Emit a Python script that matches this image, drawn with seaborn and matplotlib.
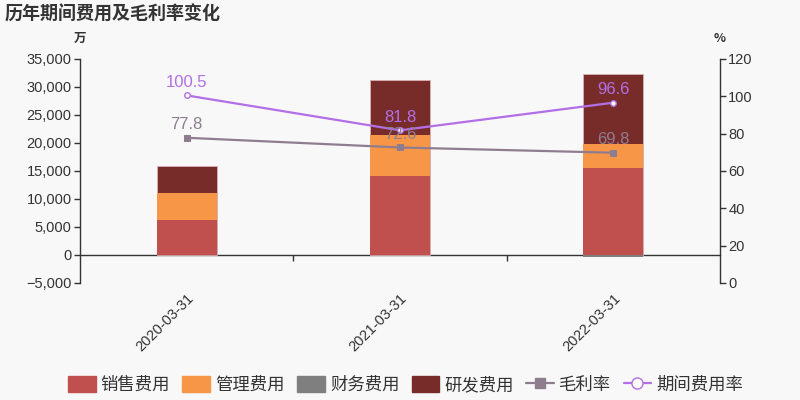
import matplotlib
matplotlib.use("Agg")
import matplotlib.pyplot as plt
import matplotlib.ticker as mticker
from matplotlib.lines import Line2D
from matplotlib.patches import FancyBboxPatch
import seaborn as sns
import numpy as np
import pandas as pd

categories = ["2020-03-31", "2021-03-31", "2022-03-31"]
sales = [6300, 14170, 15490]
mgmt = [4750, 7230, 4370]
finance = [0, 0, -300]
rnd = [4900, 9830, 12430]
gross_margin = [77.8, 72.6, 69.8]
expense_rate = [100.5, 81.8, 96.6]

c_sales = "#c0504d"
c_mgmt = "#f79646"
c_fin = "#7f7f7f"
c_rnd = "#772c2a"
c_gm = "#8f7d8f"
c_er = "#b26fe6"
bg = "#f8f8f8"

sns.set_theme(style="white")
plt.rcParams["font.family"] = ["Noto Sans CJK SC", "DejaVu Sans"]
plt.rcParams["axes.unicode_minus"] = True

fig = plt.figure(figsize=(8, 4), dpi=100, facecolor=bg)
ax = fig.add_axes([0.1, 0.2925, 0.8, 0.56])
ax.set_facecolor(bg)

df = pd.DataFrame({"cat": categories, "sales": sales, "mgmt": mgmt,
                   "fin": finance, "rnd": rnd})
df["s1"] = df["sales"]
df["s2"] = df["sales"] + df["mgmt"]
df["s3"] = df["s2"] + df["rnd"]

w = 0.28
sns.barplot(data=df, x="cat", y="s3", color=c_rnd, width=w, ax=ax,
            saturation=1, edgecolor="#d9b3b3", linewidth=0.6)
sns.barplot(data=df, x="cat", y="s2", color=c_mgmt, width=w, ax=ax,
            saturation=1, linewidth=0)
sns.barplot(data=df, x="cat", y="s1", color=c_sales, width=w, ax=ax,
            saturation=1, linewidth=0)
sns.barplot(data=df, x="cat", y="fin", color=c_fin, width=w, ax=ax,
            saturation=1, linewidth=0)

ax.set_ylim(-5000, 35000)
ax.set_xlim(-0.5, 2.5)
ax.yaxis.set_major_locator(mticker.MultipleLocator(5000))
ax.yaxis.set_major_formatter(mticker.FuncFormatter(lambda v, p: f"{int(v):,}".replace("-", "\u2212")))
ax.set_xlabel("")
ax.set_ylabel("")
for s in ["top", "bottom", "right"]:
    ax.spines[s].set_visible(False)
ax.spines["left"].set_color("#333333")
ax.spines["left"].set_linewidth(1)
ax.tick_params(axis="y", colors="#333333", labelsize=10.5, length=4, width=1,
               direction="out", left=True, pad=2)
ax.tick_params(axis="x", length=0, pad=6, labelsize=10.5, colors="#333333")
ax.set_xticks(range(len(categories)))
ax.set_xticklabels(categories, rotation=45, ha="right", rotation_mode="anchor")

# zero axis line with category boundary ticks
sec = ax.secondary_xaxis(5000 / 40000)
sec.set_xticks([0.5, 1.5])
sec.set_xticklabels([])
sec.tick_params(axis="x", length=4, width=1, color="#333333", direction="out")
sec.spines["bottom"].set_color("#333333")
sec.spines["bottom"].set_linewidth(1)

ax2 = ax.twinx()
ax2.set_ylim(0, 120)
ax2.yaxis.set_major_locator(mticker.MultipleLocator(20))
for s in ["top", "bottom", "left"]:
    ax2.spines[s].set_visible(False)
ax2.spines["right"].set_color("#333333")
ax2.spines["right"].set_linewidth(1)
ax2.tick_params(axis="y", colors="#333333", labelsize=10.5, length=4, width=1,
                right=True, pad=2)
ax2.grid(False)
ax.grid(False)

x = np.arange(len(categories))
sns.lineplot(x=x, y=gross_margin, ax=ax2, color=c_gm, marker="s",
             markersize=4, markeredgecolor=c_gm, linewidth=1.6)
sns.lineplot(x=x, y=expense_rate, ax=ax2, color=c_er, marker="o",
             markersize=4, markerfacecolor="white", markeredgecolor=c_er,
             markeredgewidth=1, linewidth=1.6)
for xi, v in zip(x, gross_margin):
    ax2.annotate(f"{v}", (xi, v), xytext=(0, 4), textcoords="offset points",
                 ha="center", va="bottom", color=c_gm, fontsize=12,
                 family=["Liberation Sans", "DejaVu Sans"])
for xi, v in zip(x, expense_rate):
    ax2.annotate(f"{v}", (xi, v), xytext=(0, 4), textcoords="offset points",
                 ha="center", va="bottom", color=c_er, fontsize=12,
                 family=["Liberation Sans", "DejaVu Sans"])

for t in ax.get_yticklabels() + ax2.get_yticklabels() + ax.get_xticklabels():
    t.set_family(["Liberation Sans", "DejaVu Sans"])

fig.text(0.006, 0.965, "历年期间费用及毛利率变化", fontsize=13, fontweight="bold",
         color="#333333", ha="left", va="center")
fig.text(0.1, 0.905, "万", fontsize=9, fontweight="bold", color="#333333",
         ha="center", va="center")
fig.text(0.9, 0.905, "%", fontsize=9, fontweight="bold", color="#333333",
         ha="center", va="center",)

handles = [
    FancyBboxPatch((0, 0), 1, 1, boxstyle="round,pad=0.1", color=c_sales),
    FancyBboxPatch((0, 0), 1, 1, boxstyle="round,pad=0.1", color=c_mgmt),
    FancyBboxPatch((0, 0), 1, 1, boxstyle="round,pad=0.1", color=c_fin),
    FancyBboxPatch((0, 0), 1, 1, boxstyle="round,pad=0.1", color=c_rnd),
    Line2D([], [], color=c_gm, marker="s", markersize=7, linewidth=1.6),
    Line2D([], [], color=c_er, marker="o", markersize=8, markerfacecolor="white",
           linewidth=1.6),
]
labels = ["销售费用", "管理费用", "财务费用", "研发费用", "毛利率", "期间费用率"]
fig.legend(handles, labels, loc="center", bbox_to_anchor=(0.507, 0.037), ncol=6,
           frameon=False, fontsize=12.5, handlelength=1.6, handleheight=1.0,
           handletextpad=0.3, columnspacing=0.7, labelcolor="#333333")

fig.savefig("out.png", dpi=100, facecolor=bg)
